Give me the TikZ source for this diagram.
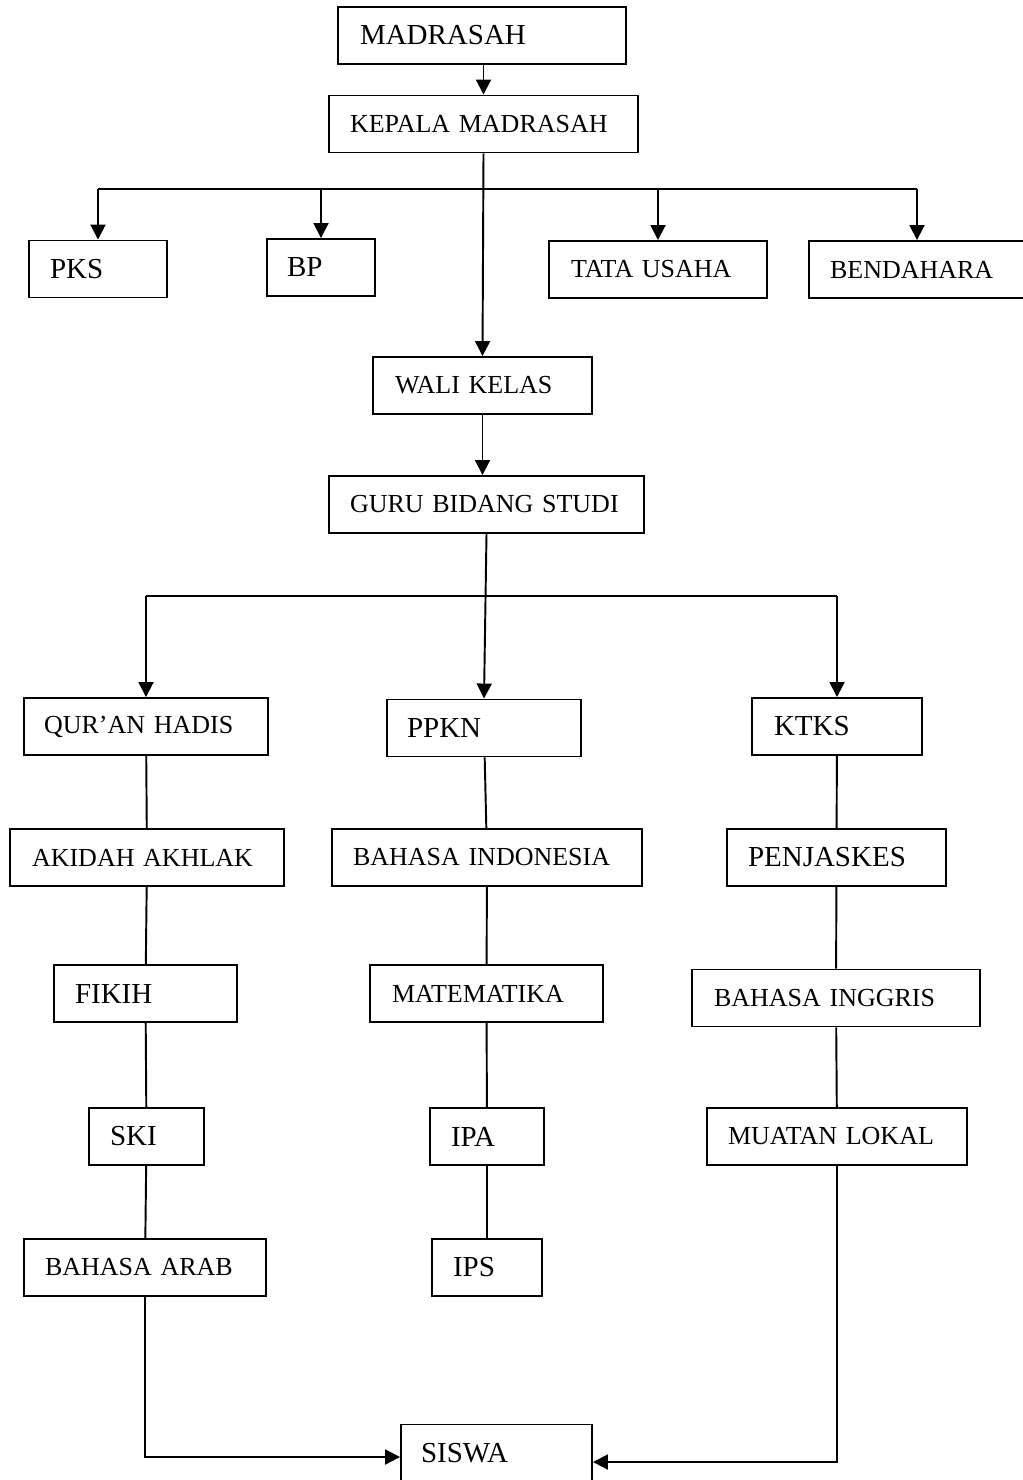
\documentclass[tikz,border=0pt]{standalone}
\usepackage{fontspec}
\setmainfont{Liberation Serif}
\usetikzlibrary{arrows.meta}

\begin{document}
\begin{tikzpicture}[x=0.02cm, y=-0.02cm,
        box_style/.style={draw=black, line width=1.1pt, minimum height=1.14cm, align=left, font=\fontsize{14.8}{17}\selectfont},
        big_box_style/.style={box_style, font=\fontsize{16.5}{19}\selectfont},
        edge_style/.style={draw=black, line width=1.1pt, -},
        arrow_style/.style={draw=black, line width=1.1pt, -{Triangle[length=0.3cm,width=0.3cm]}}]

        \useasboundingbox (0,0) rectangle (1022,1480);

        \node [big_box_style, text width=4.88cm, inner xsep=0.44cm] (madrasah) at (482,35.5) {MADRASAH};
        \node [box_style, text width=5.34cm, inner xsep=0.42cm] (kepala) at (483.5,124) {KEPALA MADRASAH};
        \node [big_box_style, text width=1.92cm, inner xsep=0.42cm] (pks) at (98,269) {PKS};
        \node [big_box_style, text width=1.36cm, inner xsep=0.40cm] (bp) at (321,267.5) {BP};
        \node [box_style, text width=3.48cm, inner xsep=0.44cm] (tata) at (658,269.5) {TATA USAHA};
        \node [box_style, text width=3.48cm, inner xsep=0.42cm] (bendahara) at (917,269.5) {BENDAHARA};
        \node [box_style, text width=3.5cm, inner xsep=0.44cm] (wali) at (482.5,385.5) {WALI KELAS};
        \node [box_style, text width=5.46cm, inner xsep=0.42cm] (guru) at (486.5,504.5) {GURU BIDANG STUDI};
        \node [box_style, text width=4.08cm, inner xsep=0.40cm] (quran) at (146,726.5) {QUR’AN HADIS};
        \node [big_box_style, text width=3.08cm, inner xsep=0.40cm] (ppkn) at (484,728) {PPKN};
        \node [big_box_style, text width=2.52cm, inner xsep=0.44cm] (ktks) at (837,726.5) {KTKS};
        \node [box_style, text width=4.6cm, inner xsep=0.44cm] (akidah) at (147,857.5) {AKIDAH AKHLAK};
        \node [box_style, text width=5.36cm, inner xsep=0.42cm] (bindo) at (487,857.5) {BAHASA INDONESIA};
        \node [big_box_style, text width=3.54cm, inner xsep=0.42cm] (penjaskes) at (836.5,857.5) {PENJASKES};
        \node [big_box_style, text width=2.82cm, inner xsep=0.42cm] (fikih) at (145.5,993.5) {FIKIH};
        \node [box_style, text width=3.78cm, inner xsep=0.44cm] (mtk) at (486.5,993.5) {MATEMATIKA};
        \node [box_style, text width=4.88cm, inner xsep=0.44cm] (binggris) at (836,998) {BAHASA INGGRIS};
        \node [big_box_style, text width=1.46cm, inner xsep=0.42cm] (ski) at (146.5,1136.5) {SKI};
        \node [big_box_style, text width=1.44cm, inner xsep=0.42cm] (ipa) at (487,1136.5) {IPA};
        \node [box_style, text width=4.36cm, inner xsep=0.42cm] (mulok) at (837,1136.5) {MUATAN LOKAL};
        \node [box_style, text width=4.0cm, inner xsep=0.42cm] (barab) at (145,1267.5) {BAHASA ARAB};
        \node [big_box_style, text width=1.36cm, inner xsep=0.42cm] (ips) at (487,1267.5) {IPS};
        \node [big_box_style, text width=3.02cm, inner xsep=0.40cm] (siswa) at (496.5,1453) {SISWA};

        \coordinate (bar1) at (0,189);
        \coordinate (bar2) at (0,596);

        \draw [arrow_style] (kepala.north |- madrasah.south) -- (kepala.north);
        \draw [edge_style] (pks.north |- bar1) -- (bendahara.north |- bar1);
        \foreach \n in {pks,bp,tata,bendahara}
            \draw [arrow_style] (\n.north |- bar1) -- (\n.north);
        \draw [arrow_style] (kepala.south) -- (wali.north);
        \draw [arrow_style] (wali.south) -- (wali.south |- guru.north);

        \draw [edge_style] (quran.north |- bar2) -- (ktks.north |- bar2);
        \draw [arrow_style] (quran.north |- bar2) -- (quran.north);
        \draw [arrow_style] (ktks.north |- bar2) -- (ktks.north);
        \draw [arrow_style] (guru.south) -- (ppkn.north);

        \foreach \a/\b in {quran/akidah, akidah/fikih, fikih/ski, ski/barab,
                ppkn/bindo, bindo/mtk, mtk/ipa, ipa/ips,
                ktks/penjaskes, penjaskes/binggris, binggris/mulok}
            \draw [edge_style] (\a) -- (\b);

        \draw [arrow_style] (barab.south) |- ([yshift=-0.08cm]siswa.west);
        \draw [arrow_style] (mulok.south) |- ([yshift=-0.18cm]siswa.east);
\end{tikzpicture}
\end{document}
